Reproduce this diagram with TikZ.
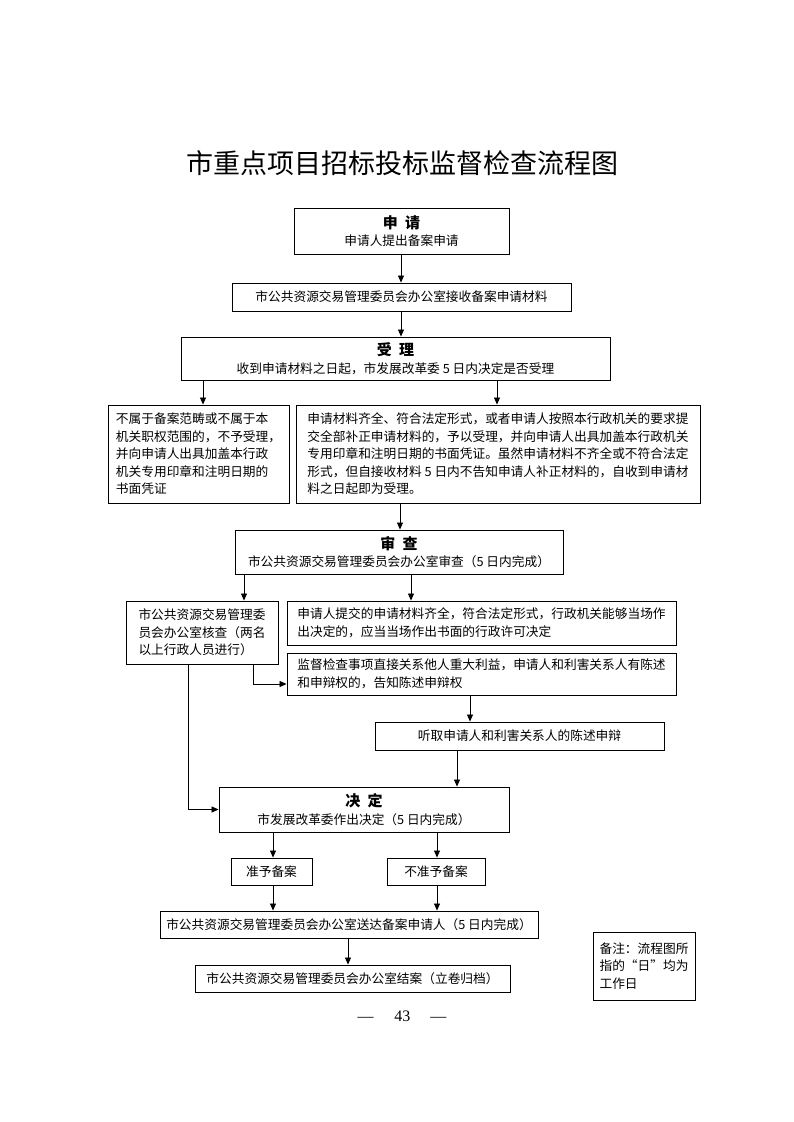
\documentclass[tikz,border=0pt]{standalone}
\usepackage{fontspec}
\setmainfont{Noto Sans CJK SC}
\newfontfamily\numfont{Liberation Serif}
\usetikzlibrary{arrows.meta}
\newcommand\boxhead[1]{{\fontsize{15}{18}\selectfont\bfseries #1}}
\begin{document}
\begin{tikzpicture}[x=1pt,y=-1pt,
  box/.style={draw, line width=0.9pt, inner sep=0pt, align=center,
    font=\fontsize{12.7}{17.5}\selectfont},
  lbox/.style={box, align=left},
  arr/.style={line width=0.8pt, -{Triangle[length=7pt,width=6pt]}},
  ln/.style={line width=0.8pt}]
\fill[white] (0,0) rectangle (793,1122);
\useasboundingbox (0,0) rectangle (793,1122);

% column / row markers
\coordinate (c401) at (401,0);
\coordinate (c203) at (203,0);
\coordinate (c497) at (497,0);
\coordinate (c400) at (400,0);
\coordinate (c244) at (244,0);
\coordinate (c411) at (411,0);
\coordinate (c188) at (188,0);
\coordinate (e1) at (253,684);
\coordinate (c470) at (470,0);
\coordinate (c457) at (457,0);
\coordinate (c273) at (273,0);
\coordinate (c437) at (437,0);
\coordinate (c348) at (348,0);

\node (title) at (402,163) {\fontsize{27}{30}\selectfont 市重点项目招标投标监督检查流程图};

\node[box, minimum width=215pt, minimum height=46pt] (b1) at (401.5,231)
  {\boxhead{申\hspace{0.5em}请}\\申请人提出备案申请};
\node[box, minimum width=339pt, minimum height=28pt] (b2) at (401.5,297)
  {市公共资源交易管理委员会办公室接收备案申请材料};
\node[box, minimum width=429pt, minimum height=43pt] (b3) at (395.5,358.5)
  {\boxhead{受\hspace{0.5em}理}\\收到申请材料之日起，市发展改革委 5 日内决定是否受理};

\node[lbox, minimum width=181pt, minimum height=98pt] (l1) at (198.5,454)
  {不属于备案范畴或不属于本\\机关职权范围的，不予受理，\\并向申请人出具加盖本行政\\机关专用印章和注明日期的\\书面凭证};
\node[lbox, minimum width=404pt, minimum height=98pt] (r1) at (498,454)
  {申请材料齐全、符合法定形式，或者申请人按照本行政机关的要求提\\
   交全部补正申请材料的，予以受理，并向申请人出具加盖本行政机关\\
   专用印章和注明日期的书面凭证。虽然申请材料不齐全或不符合法定\\
   形式，但自接收材料 5 日内不告知申请人补正材料的，自收到申请材\\
   料之日起即为受理。};

\node[box, minimum width=328pt, minimum height=44pt] (b4) at (399,552)
  {\boxhead{审\hspace{0.5em}查}\\市公共资源交易管理委员会办公室审查（5 日内完成）};

\node[lbox, minimum width=152pt, minimum height=63pt] (l2) at (202,632.5)
  {市公共资源交易管理委\\员会办公室核查（两名\\以上行政人员进行）};
\node[lbox, minimum width=389pt, minimum height=44pt] (r2) at (481.5,623)
  {申请人提交的申请材料齐全，符合法定形式，行政机关能够当场作\\出决定的，应当当场作出书面的行政许可决定};
\node[lbox, minimum width=389pt, minimum height=42pt] (r3) at (481.5,674)
  {监督检查事项直接关系他人重大利益，申请人和利害关系人有陈述\\和申辩权的，告知陈述申辩权};
\node[box, minimum width=289pt, minimum height=28pt] (b5) at (519.5,736)
  {听取申请人和利害关系人的陈述申辩};

\node[box, minimum width=290pt, minimum height=45pt] (b6) at (364,809.5)
  {\boxhead{决\hspace{0.5em}定}\\市发展改革委作出决定（5 日内完成）};
\node[box, minimum width=81pt, minimum height=27pt] (y1) at (271.5,871.5) {准予备案};
\node[box, minimum width=98pt, minimum height=27pt] (n1) at (436,871.5) {不准予备案};
\node[box, minimum width=378pt, minimum height=27pt] (b7) at (349,924.5)
  {市公共资源交易管理委员会办公室送达备案申请人（5 日内完成）};
\node[box, minimum width=315pt, minimum height=27pt] (b8) at (352.5,978.5)
  {市公共资源交易管理委员会办公室结案（立卷归档）};

\node[lbox, minimum width=102pt, minimum height=68pt] (note) at (644,966)
  {备注：流程图所\\指的“日”均为\\工作日};

\node (page) at (402,1016) {\numfont\fontsize{16}{18}\selectfont —\hspace{21pt}43\hspace{20pt}—};

% connectors
\draw[arr] (b1.south -| c401) -- (b2.north -| c401);
\draw[arr] (b2.south -| c401) -- (b3.north -| c401);
\draw[arr] (b3.south -| c203) -- (l1.north -| c203);
\draw[arr] (b3.south -| c497) -- (r1.north -| c497);
\draw[arr] (r1.south -| c400) -- (b4.north -| c400);
\draw[arr] (b4.south -| c244) -- (l2.north -| c244);
\draw[arr] (b4.south -| c411) -- (r2.north -| c411);
\draw[arr] (l2.south -| e1) |- (r3.west |- e1);
\draw[arr] (l2.south -| c188) |- (b6.west);
\draw[arr] (r3.south -| c470) -- (b5.north -| c470);
\draw[arr] (b5.south -| c457) -- (b6.north -| c457);
\draw[arr] (b6.south -| c273) -- (y1.north -| c273);
\draw[arr] (b6.south -| c437) -- (n1.north -| c437);
\draw[arr] (y1.south -| c273) -- (b7.north -| c273);
\draw[arr] (n1.south -| c437) -- (b7.north -| c437);
\draw[arr] (b7.south -| c348) -- (b8.north -| c348);
\end{tikzpicture}
\end{document}
